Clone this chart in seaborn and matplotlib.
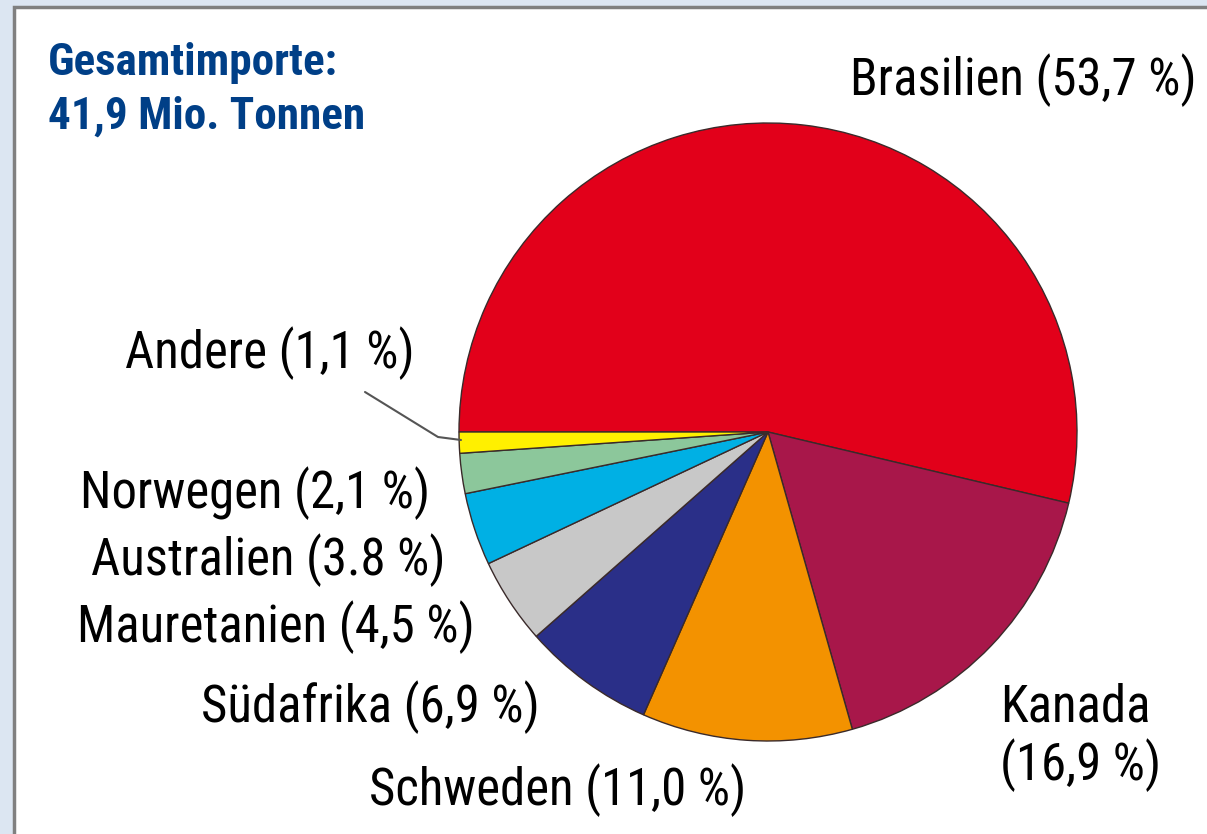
import matplotlib
matplotlib.use("Agg")
import matplotlib.pyplot as plt
import seaborn as sns
from matplotlib.patches import Rectangle

# -----------------------------
# DATA
# -----------------------------
countries = ["Brasilien", "Kanada", "Schweden", "Südafrika",
             "Mauretanien", "Australien", "Norwegen", "Andere"]
shares = [53.7, 16.9, 11.0, 6.9, 4.5, 3.8, 2.1, 1.1]
share_labels = ["53,7 %", "16,9 %", "11,0 %", "6,9 %",
                "4,5 %", "3.8 %", "2,1 %", "1,1 %"]
colors = ["#e2001a", "#a8174a", "#f39200", "#2a2f88",
          "#c8c8c8", "#00b0e4", "#8cc79b", "#fff000"]
title_text = "Gesamtimporte:\n41,9 Mio. Tonnen"

sns.set_theme(style="white")
plt.rcParams["font.family"] = ["Roboto Condensed", "DejaVu Sans"]

W, H = 1207, 834
fig = plt.figure(figsize=(W / 100, H / 100), dpi=100, facecolor="#dce6f2")

# frame
bg = fig.add_axes([0, 0, 1, 1], zorder=-5)
bg.set_xlim(0, W)
bg.set_ylim(H, 0)
bg.axis("off")
bg.add_patch(Rectangle((14, 7), W + 20, H + 20, facecolor="white",
                       edgecolor="#808080", linewidth=2.5))

# pie axes: centre (768, 432) px, radius 309 px
cx, cy, r = 768, 432, 309
lim = 1.2
ax = fig.add_axes([(cx - lim * r) / W, (H - cy - lim * r) / H,
                   2 * lim * r / W, 2 * lim * r / H])
ax.pie(shares, colors=colors, startangle=180, counterclock=False,
       wedgeprops=dict(edgecolor="#3a2a2a", linewidth=1.0))
ax.set_xlim(-lim, lim)
ax.set_ylim(-lim, lim)
ax.set_aspect("equal")
ax.axis("off")


def px(x, y):
    return (x - cx) / r, (cy - y) / r


# label positions in pixels (x, y, ha)
label_pos = {
    "Brasilien": (850, 80, "left"),
    "Kanada": (1000, 737, "left"),
    "Schweden": (558, 790, "center"),
    "Südafrika": (540, 707, "right"),
    "Mauretanien": (475, 627, "right"),
    "Australien": (445, 560, "right"),
    "Norwegen": (430, 493, "right"),
    "Andere": (415, 353, "right"),
}

for name, lab in zip(countries, share_labels):
    x, y, ha = label_pos[name]
    sep = "\n" if name == "Kanada" else " "
    tx, ty = px(x, y)
    ax.text(tx, ty, f"{name}{sep}({lab})", ha=ha, va="center",
            fontsize=36.5, color="black", linespacing=1.15, clip_on=False)

# leader line for "Andere"
lx, ly = zip(px(365, 392), px(438, 437), px(461, 440))
ax.plot(lx, ly, color="#555555", linewidth=1.5, clip_on=False)

fig.text(48 / W, 1 - 42 / H, title_text, ha="left", va="top",
         fontsize=32.5, fontweight="bold", color="#003f87", linespacing=1.35)

fig.savefig("out.png", dpi=100, facecolor=fig.get_facecolor())
